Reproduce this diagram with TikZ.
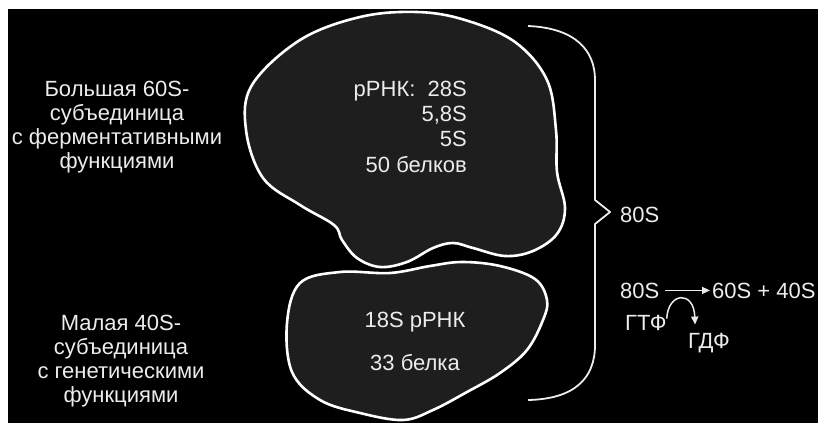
\documentclass[tikz,border=0pt]{standalone}
\usepackage{fontspec}
\setmainfont{Liberation Sans}
\usetikzlibrary{math}
\usetikzlibrary{arrows.meta}

\definecolor{blobfill}{RGB}{30,30,30}
\definecolor{ink}{RGB}{236,236,236}

\tikzset{
  txt/.style={text=ink, font=\fontsize{22}{23.7}\selectfont, inner sep=0pt},
  blob/.style={draw=white, line width=2.6pt, fill=blobfill, line join=round},
}

\begin{document}
\begin{tikzpicture}[x=1pt, y=-1pt, >={Triangle[length=8pt,width=7pt]}]
          \tikzmath{
            \bx=595;
            \tipx=610;
            \tipy=212;}
          \useasboundingbox (0,0) rectangle (818,423);
          \fill[white] (0,0) rectangle (818,423);
          \fill[black] (8,9) rectangle (818,423);
          % large subunit
          \draw[blob] plot[smooth cycle, tension=0.6] coordinates {
            (417,12) (465,20) (515,42) (547,80) (556,130) (557,172) (565,208)
            (557,234) (533,251) (505,256) (473,248) (453,243) (433,248) (407,262)
            (380,267) (357,258) (342,240) (334,225) (300,205) (263,178) (246,130)
            (252,85) (300,40) (360,17)};
          % small subunit
          \draw[blob] plot[smooth cycle, tension=0.6] coordinates {
            (300,283) (340,272) (390,273) (430,266) (462,262) (500,266) (535,279)
            (547,300) (543,320) (527,350) (500,373) (467,392) (433,410) (403,420)
            (360,413) (320,400) (292,372) (287,323)};
          % brace round both subunits
          \draw[ink, line width=1.8pt, line join=round]
            (528,26) .. controls (575,28) and (\bx,50) .. (\bx,80) -- (\bx,\tipy-12)
            -- (\tipx,\tipy) -- (\bx,\tipy+12) -- (\bx,345)
            .. controls (\bx,378) and (575,399) .. (528,400);
%          base of a multi-line node is its last line
          \node[txt, align=center, anchor=base] (big) at (117,168)
            {Большая 60S-\\субъединица\\с ферментативными\\функциями};
          \node[txt, align=center, anchor=base] (small) at (121,402)
            {Малая 40S-\\субъединица\\с генетическими\\функциями};
          \node[txt, align=right, anchor=base east] (rrna60) at (467,172)
            {рРНК:\ \ 28S\\[1.5pt]5,8S\\[1.5pt]5S\\[1.5pt]50 белков};
          \node[txt, anchor=base] (rrna40) at (415,327) {18S рРНК};
          \node[txt, anchor=base] (prot40) at (415,370) {33 белка};
          \node[txt, anchor=base west] (total) at (620,222) {80S};
          \node[txt, anchor=base west] (full) at (620,298) {80S};
          \node[txt, anchor=base west] (parts) at (712,298) {60S + 40S};
          \node[txt, anchor=base west] (gtp) at (625,330) {ГТФ};
          \node[txt, anchor=base west] (gdp) at (688,348) {ГДФ};
          \draw[->, ink, line width=1.5pt] ([xshift=5pt]full.east) -- ([xshift=-2pt]parts.west);
          \draw[->, ink, line width=1.5pt] ([yshift=-4pt]gtp.north east)
            .. controls (668,292) and (694,290) .. ([xshift=7pt,yshift=8pt]gdp.north west);
        \end{tikzpicture}
\end{document}
